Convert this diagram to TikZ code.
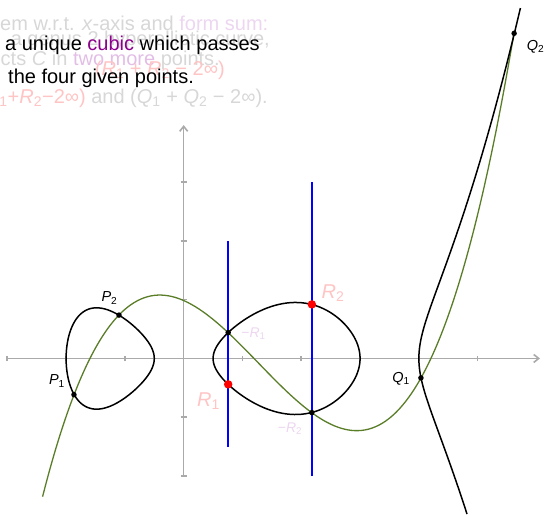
\documentclass[tikz,border=0pt]{standalone}
\usepackage{fontspec}
\setmainfont{Liberation Sans}
\usetikzlibrary{arrows.meta}
\definecolor{fadegray}{RGB}{215,215,215}
\definecolor{fadepink}{RGB}{255,196,196}
\definecolor{fadelav}{RGB}{236,214,240}
\definecolor{lavtwo}{RGB}{226,190,230}
\definecolor{cubicpurple}{RGB}{140,0,140}
\definecolor{axisgray}{RGB}{170,170,170}
\definecolor{curvegreen}{RGB}{90,125,40}
\definecolor{lineblue}{RGB}{0,0,255}
\newcommand{\mvar}[2]{\textit{#1}\textsubscript{#2}}
\begin{document}
\begin{tikzpicture}[x=58.8pt,y=58.8pt,
  declare function={
    gc(\x)=-0.62+1.7755*(\x+1.866)-0.5629*(\x+1.866)*(\x+1.1)+0.12284*(\x+1.866)*(\x+1.1)*(\x-2.19);
    hA(\x)=-0.03*(\x-0.5)*(\x-3)*(\x-4);
    hB(\x)=-0.03*(\x+2)*(\x+0.5)*(\x-4);
    hC(\x)=0.03*(\x+2)*(\x+0.5)*(\x-0.5)*(\x-3);
  },
  axisline/.style={draw=axisgray,line width=1.6pt},
  hyper/.style={draw=black,line width=1.5pt},
  cubicline/.style={draw=curvegreen,line width=1.3pt},
  vline/.style={draw=lineblue,line width=1.8pt},
  pdot/.style={circle,fill=black,inner sep=0pt,minimum size=5.5pt},
  rdot/.style={circle,fill=red,inner sep=0pt,minimum size=8.5pt},
  txt/.style={font=\fontsize{20}{24}\selectfont,inner sep=0pt},
  plabel/.style={font=\fontsize{14.5}{17}\selectfont,inner sep=0pt},
  rlabel/.style={font=\fontsize{20}{24}\selectfont,inner sep=0pt,text=fadepink},
  mlabel/.style={font=\fontsize{14}{16}\selectfont,inner sep=0pt,text=fadelav},
]
\useasboundingbox (-3.124,-2.645) rectangle (6.128,6.097);

% axes
\coordinate (xs) at (-3,0);
\coordinate (xe) at (6.06,0);
\coordinate (ys) at (0,-2.0);
\coordinate (ye) at (0,3.97);
\draw[axisline,-{Straight Barb[length=5pt,width=8pt]}] (xs) -- (xe);
\draw[axisline,-{Straight Barb[length=5pt,width=8pt]}] (ys) -- (ye);
\foreach \i in {-3,-2,-1,1,2,3,4,5} \draw[axisline] (\i,-0.05) -- (\i,0.05);
\foreach \j in {-2,-1,1,2,3} \draw[axisline] (-0.05,\j) -- (0.05,\j);

% green cubic
\draw[cubicline] plot[domain=-2.4:5.62,samples=140,smooth] (\x,{gc(\x)});

% hyperelliptic curve
\draw[hyper] plot[domain=0:357,samples=120,smooth cycle,variable=\t]
  ({-1.25-0.75*cos(\t)},{0.75*sin(\t)*sqrt(hA(-1.25-0.75*cos(\t)))});
\draw[hyper] plot[domain=0:357,samples=120,smooth cycle,variable=\t]
  ({1.75-1.25*cos(\t)},{1.25*sin(\t)*sqrt(hB(1.75-1.25*cos(\t)))});
\draw[hyper] plot[domain=-0.905:1.315,samples=90,smooth,variable=\s]
  ({4+\s*\s},{\s*sqrt(hC(4+\s*\s))});

% vertical lines
\coordinate (vAtop) at (0.757,2);
\coordinate (vAbot) at (0.757,-1.5);
\coordinate (vBtop) at (2.18,3);
\coordinate (vBbot) at (2.18,-2);
\draw[vline] (vBbot) -- (vBtop) (vAtop) -- (vAbot);

% points
\node[pdot] (P1) at (-1.866,-0.615) {};
\node[pdot] (P2) at (-1.1,0.738) {};
\node[pdot] (Q1) at (4.035,-0.33) {};
\node[pdot] (Q2) at (5.62,5.53) {};
\node[pdot] (mR1) at (0.757,0.44) {};
\node[pdot] (mR2) at (2.18,-0.92) {};
\node[rdot] (R1) at (0.757,-0.44) {};
\node[rdot] (R2) at (2.18,0.92) {};

% point labels
\node[plabel] (lP1) at (-2.155,-0.383) {\mvar{P}{1}};
\node[plabel] (lP2) at (-1.262,1.029) {\mvar{P}{2}};
\node[plabel] (lQ1) at (3.696,-0.340) {\mvar{Q}{1}};
\node[plabel] (lQ2) at (5.983,5.298) {\mvar{Q}{2}};
\node[mlabel] (lmR1) at (1.187,0.425) {−\mvar{R}{1}};
\node[mlabel] (lmR2) at (1.808,-1.190) {−\mvar{R}{2}};
\node[rlabel] (lR1) at (0.422,-0.723) {\mvar{R}{1}};
\node[rlabel] (lR2) at (2.539,1.114) {\mvar{R}{2}};

% faded overlay texts
\node[txt,text=fadegray,anchor=base west] (tA) at (-3.124,5.570)
  {em w.r.t. \textit{x}-axis and \textcolor{fadelav}{form sum:}};
\node[txt,text=fadegray,anchor=base east] (tG) at (1.469,5.315)
  {a genus 2 hyperelliptic curve,};
\node[txt,text=fadegray,anchor=base east] (tC) at (0.617,4.991)
  {cts \textit{C} in \textcolor{lavtwo}{two more} points.};
\node[txt,text=fadepink,anchor=base east] (tS) at (0.702,4.821)
  {(\mvar{R}{1} + \mvar{R}{2} − 2∞)};
\node[txt,text=fadegray,anchor=base east] (tD) at (1.434,4.345)
  {\textcolor{fadepink}{\mvar{R}{1}+\mvar{R}{2}−2∞)} and (\mvar{Q}{1} + \mvar{Q}{2} − 2∞).};

% main texts
\node[txt,anchor=base west] (tB) at (-3.039,5.235)
  {a unique \textcolor{cubicpurple}{cubic} which passes};
\node[txt,anchor=base west] (tE) at (-2.988,4.680)
  {the four given points.};
\end{tikzpicture}
\end{document}
